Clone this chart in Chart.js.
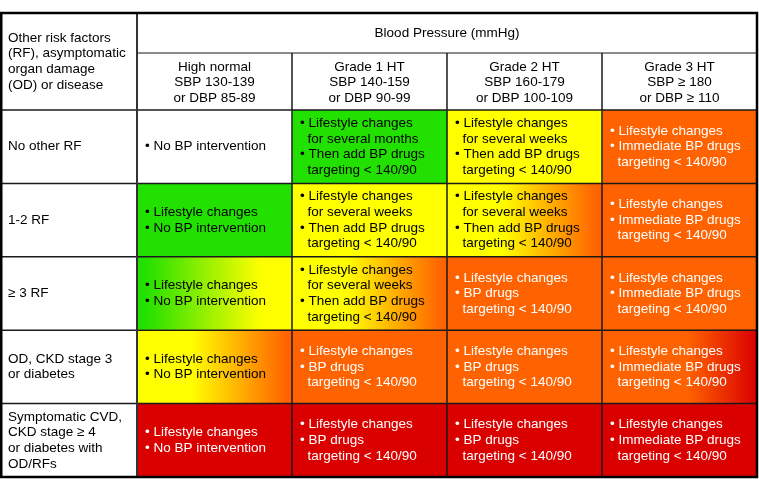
<!DOCTYPE html>
<html>
<head>
<meta charset="utf-8">
<script src="https://cdn.jsdelivr.net/npm/chart.js@4/dist/chart.umd.min.js"></script>
<style>
  html, body { margin: 0; padding: 0; background: #fff; }
  #wrap { width: 759px; height: 479px; }
</style>
</head>
<body>
<div id="wrap"><canvas id="bpChart" width="759" height="479"></canvas></div>
<script>
// Table rows: other risk factors, organ damage or disease
const riskFactors = [
  ['No other RF'],
  ['1-2 RF'],
  ['≥ 3 RF'],
  ['OD, CKD stage 3', 'or diabetes'],
  ['Symptomatic CVD,', 'CKD stage ≥ 4', 'or diabetes with', 'OD/RFs']
];
const cornerLabel = ['Other risk factors', '(RF), asymptomatic', 'organ damage', '(OD) or disease'];
const axisTitle = 'Blood Pressure (mmHg)';

// Table columns: blood pressure grades
const bpGrades = [
  ['High normal', 'SBP 130-139', 'or DBP 85-89'],
  ['Grade 1 HT', 'SBP 140-159', 'or DBP 90-99'],
  ['Grade 2 HT', 'SBP 160-179', 'or DBP 100-109'],
  ['Grade 3 HT', 'SBP ≥ 180', 'or DBP ≥ 110']
];

// Advice per column, one entry per row
const monthsThenDrugs = ['• Lifestyle changes', '  for several months', '• Then add BP drugs', '  targeting < 140/90'];
const weeksThenDrugs = ['• Lifestyle changes', '  for several weeks', '• Then add BP drugs', '  targeting < 140/90'];
const withDrugs = ['• Lifestyle changes', '• BP drugs', '  targeting < 140/90'];
const immediateDrugs = ['• Lifestyle changes', '• Immediate BP drugs', '  targeting < 140/90'];
const noIntervention = ['• Lifestyle changes', '• No BP intervention'];

const highNormalAdvice = [['• No BP intervention'], noIntervention, noIntervention, noIntervention, noIntervention];
const grade1Advice = [monthsThenDrugs, weeksThenDrugs, weeksThenDrugs, withDrugs, withDrugs];
const grade2Advice = [weeksThenDrugs, weeksThenDrugs, withDrugs, withDrugs, withDrugs];
const grade3Advice = [immediateDrugs, immediateDrugs, immediateDrugs, immediateDrugs, immediateDrugs];

// Risk level per cell: N none, L low, M moderate, H high, VH very high ("A-B" = shading between)
const highNormalRisk = ['N', 'L', 'L-M', 'M-H', 'VH'];
const grade1Risk = ['L', 'M', 'M-H', 'H', 'VH'];
const grade2Risk = ['M', 'M-H', 'H', 'H', 'VH'];
const grade3Risk = ['H', 'H', 'H', 'H-VH', 'VH'];

const columnAdvice = [highNormalAdvice, grade1Advice, grade2Advice, grade3Advice];
const columnRisk = [highNormalRisk, grade1Risk, grade2Risk, grade3Risk];

// styles
const FONT = '"Liberation Sans", Arial, Helvetica, sans-serif';
const FONT_SIZE = 13.5;
const LINE_H = 15.6;
const riskColors = { N: '#ffffff', L: '#22e000', M: '#ffff00', H: '#ff6200', VH: '#da0000' };
const blendStops = { 'L-M': [0.05, 0.8], 'M-H': [0.35, 0.97], 'H-VH': [0.55, 1] };
const whiteText = ['H', 'H-VH', 'VH'];

function cellFill(context) {
  const chart = context.chart;
  const tone = columnRisk[context.datasetIndex][context.dataIndex];
  if (riskColors[tone]) return riskColors[tone];
  const [from, to] = tone.split('-');
  if (!chart.chartArea) return riskColors[from];
  const xs = chart.scales.x;
  const x0 = xs.getPixelForValue(context.datasetIndex);
  const x1 = xs.getPixelForValue(context.datasetIndex + 1);
  const g = chart.ctx.createLinearGradient(x0, 0, x1, 0);
  const [s0, s1] = blendStops[tone];
  g.addColorStop(s0, riskColors[from]);
  g.addColorStop(s1, riskColors[to]);
  return g;
}

const tablePlugin = {
  id: 'tableGrid',
  afterDraw(chart) {
    const { ctx, chartArea: area, scales: { x, y } } = chart;
    ctx.save();
    ctx.font = FONT_SIZE + 'px ' + FONT;
    ctx.textBaseline = 'middle';
    ctx.textAlign = 'left';

    // advice text in each cell
    columnAdvice.forEach((col, c) => {
      chart.getDatasetMeta(c).data.forEach((bar, r) => {
        const lines = col[r];
        const left = Math.min(bar.x, bar.base);
        ctx.fillStyle = whiteText.includes(columnRisk[c][r]) ? '#ffffff' : '#000000';
        const y0 = bar.y - (lines.length - 1) * LINE_H / 2;
        lines.forEach((line, k) => ctx.fillText(line, left + 8, y0 + k * LINE_H));
      });
    });

    // corner header
    ctx.fillStyle = '#000000';
    const cy = (x.top + area.top) / 2 - (cornerLabel.length - 1) * LINE_H / 2;
    cornerLabel.forEach((line, k) => ctx.fillText(line, y.left, cy + k * LINE_H));

    const frameLeft = 1.25;
    const subTop = x.top + 40;
    const seg = (x0, y0, x1, y1) => { ctx.beginPath(); ctx.moveTo(x0, y0); ctx.lineTo(x1, y1); ctx.stroke(); };

    ctx.strokeStyle = '#1a1a1a';
    ctx.lineWidth = 1.5;
    for (let r = 1; r < riskFactors.length; r++) {
      const yy = (y.getPixelForValue(r - 1) + y.getPixelForValue(r)) / 2;
      seg(frameLeft, yy, area.right, yy);
    }
    seg(frameLeft, area.top, area.right, area.top);
    ctx.lineWidth = 1.2;
    seg(area.left, subTop, area.right, subTop);
    ctx.lineWidth = 1.5;
    for (let c = 1; c < bpGrades.length; c++) {
      const xx = x.getPixelForValue(c);
      seg(xx, subTop, xx, area.bottom);
    }
    ctx.strokeStyle = '#333333';
    ctx.lineWidth = 2;
    seg(area.left, x.top, area.left, area.bottom);

    ctx.strokeStyle = '#000000';
    ctx.lineWidth = 2.5;
    ctx.strokeRect(frameLeft, x.top, area.right - frameLeft, area.bottom - x.top);
    ctx.restore();
  }
};

const datasets = bpGrades.map((grade, c) => ({
  label: grade[0],
  data: riskFactors.map(() => 1),
  backgroundColor: cellFill,
  borderWidth: 0,
  barPercentage: 1,
  categoryPercentage: 1
}));

new Chart(document.getElementById('bpChart'), {
  type: 'bar',
  data: { labels: riskFactors, datasets: datasets },
  options: {
    indexAxis: 'y',
    responsive: false,
    animation: false,
    devicePixelRatio: 1,
    events: [],
    layout: { padding: { top: 13, left: 8, right: 2, bottom: 2 } },
    plugins: { legend: { display: false }, tooltip: { enabled: false } },
    scales: {
      x: {
        position: 'top',
        stacked: true,
        min: 0,
        max: bpGrades.length,
        grid: { display: false, drawTicks: false },
        border: { display: false },
        title: {
          display: true,
          text: axisTitle,
          color: '#000000',
          font: { family: FONT, size: FONT_SIZE, lineHeight: 1.16 },
          padding: { top: 12, bottom: 0 }
        },
        ticks: {
          color: '#000000',
          autoSkip: false,
          maxRotation: 0,
          padding: 4,
          font: { family: FONT, size: FONT_SIZE, lineHeight: 1.16 },
          callback: (value, index) => bpGrades[index]
        },
        afterBuildTicks: (scale) => {
          scale.ticks = bpGrades.map((g, i) => ({ value: i + 0.5 }));
        },
        afterFit: (scale) => {
          scale.height = 97;
          scale.paddingLeft = 0;
          scale.paddingRight = 0;
        }
      },
      y: {
        stacked: true,
        grid: { display: false, drawTicks: false },
        border: { display: false },
        ticks: {
          color: '#000000',
          crossAlign: 'far',
          padding: 0,
          font: { family: FONT, size: FONT_SIZE, lineHeight: 1.16 }
        },
        afterFit: (scale) => {
          scale.width = 129;
          scale.paddingTop = 0;
          scale.paddingBottom = 0;
        }
      }
    }
  },
  plugins: [tablePlugin]
});
</script>
</body>
</html>
